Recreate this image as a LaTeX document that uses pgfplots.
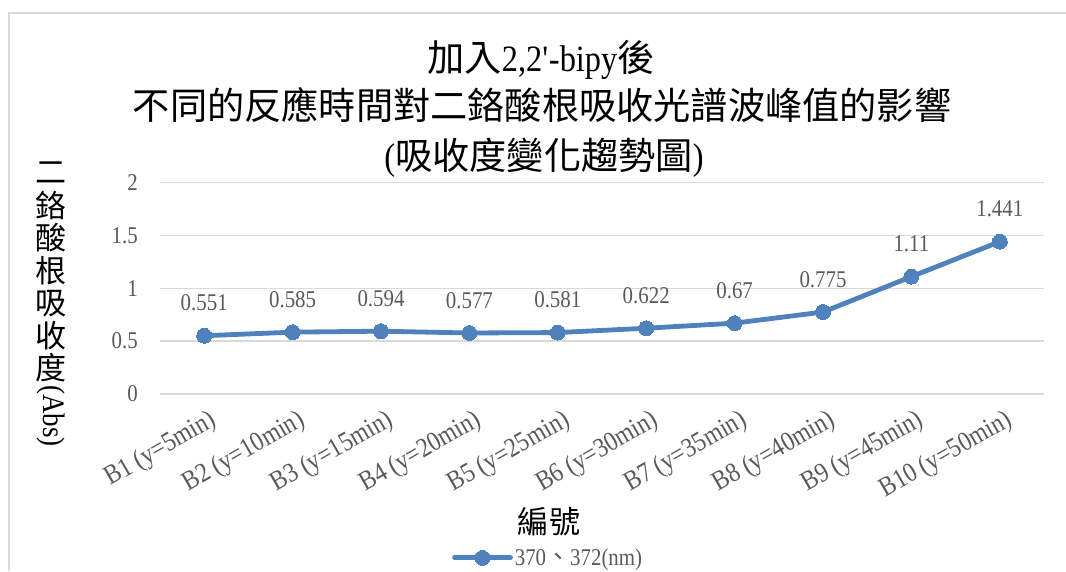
\documentclass[border=0pt]{standalone}
\usepackage{fontspec}
\setmainfont{Liberation Serif}[FakeStretch=0.87]
\newfontfamily\cjk{Noto Sans CJK TC}
\usepackage{pgfplots}
\pgfplotsset{compat=1.18}
\definecolor{serie}{HTML}{4F81BD}
\definecolor{labelgray}{HTML}{595959}
\definecolor{gridgray}{HTML}{D9D9D9}

\newcommand{\tickfont}{\fontsize{18}{20}\selectfont}
\newcommand{\catfont}{\fontsize{20.5}{22}\selectfont}
\newcommand{\titlefont}{\fontsize{27.9}{32}\selectfont}
\newcommand{\axfont}{\fontsize{23.3}{26}\selectfont}

\begin{document}
\begin{tikzpicture}[x=0.75pt,y=0.75pt]
\useasboundingbox (0,0) rectangle (1066,571);
% chart area border
\draw[gridgray, line width=1.2pt] (9,0) -- (9,558) -- (1066,558);

% chart title
\node[font=\titlefont, anchor=base] at (541,499) {{\cjk 加入}2,2\textquotesingle-bipy{\cjk 後}};
\node[font=\titlefont, anchor=base] at (542,451) {\cjk 不同的反應時間對二鉻酸根吸收光譜波峰值的影響};
\node[font=\titlefont, anchor=base] at (544,401) {({\cjk 吸收度變化趨勢圖})};

% vertical y-axis title
\foreach \c/\yy in {二/173, 鉻/206, 酸/238, 根/271, 吸/304, 收/336, 度/368}
  \node[font=\axfont\cjk, inner sep=0pt] at (51,571-\yy) {\c};
\node[font=\axfont, rotate=-90, inner sep=0pt] at (51,155) {(Abs)};

% x-axis title
\node[font=\axfont\cjk, inner sep=0pt] at (549,49) {編號};

\begin{axis}[
  at={(120pt,132.75pt)}, anchor=south west,
  scale only axis, width=663pt, height=158.6pt,
  xmin=0.5, xmax=10.5, ymin=0, ymax=2,
  axis line style={draw=none},
  major tick length=0pt,
  ytick={0,0.5,1,1.5,2},
  ymajorgrids, grid style={gridgray, line width=1.1pt},
  xtick={1,...,10},
  xticklabels={{B1 (y=5min)},{B2 (y=10min)},{B3 (y=15min)},{B4 (y=20min)},{B5 (y=25min)},
               {B6 (y=30min)},{B7 (y=35min)},{B8 (y=40min)},{B9 (y=45min)},{B10 (y=50min)}},
  ticklabel style={text=labelgray},
  yticklabel style={font=\tickfont, anchor=east, inner sep=0pt, xshift=-16.5pt},
  xticklabel style={font=\catfont, anchor=north east, inner sep=0pt, yshift=-10pt, xshift=3pt, rotate=30},
  /pgf/number format/assume math mode=true,
  clip=false,
  legend style={at={(0.439,-0.775)}, anchor=center, draw=none, fill=none,
                font=\tickfont, text=labelgray, inner sep=0pt,
                nodes={inner sep=1.5pt}},
  legend image code/.code={\draw[mark repeat=2,mark phase=2] plot coordinates {(0pt,0pt) (21pt,0pt) (42pt,0pt)};},
]
\addplot[color=serie, line width=3.6pt, line join=round, line cap=round,
         mark=*, mark size=5.6pt, mark options={fill=serie, draw=serie, line width=0pt},
         point meta=explicit symbolic,
         nodes near coords,
         every node near coord/.append style={font=\tickfont, text=labelgray, inner sep=0pt, anchor=south, yshift=18.4pt}]
  coordinates {
  (1,0.551) [0.551]
  (2,0.585) [0.585]
  (3,0.594) [0.594]
  (4,0.577) [0.577]
  (5,0.581) [0.581]
  (6,0.622) [0.622]
  (7,0.67)  [0.67]
  (8,0.775) [0.775]
  (9,1.11)  [1.11]
  (10,1.441) [1.441]
  };
\addlegendentry{370{\cjk 、}372(nm)}
\end{axis}
\end{tikzpicture}
\end{document}
